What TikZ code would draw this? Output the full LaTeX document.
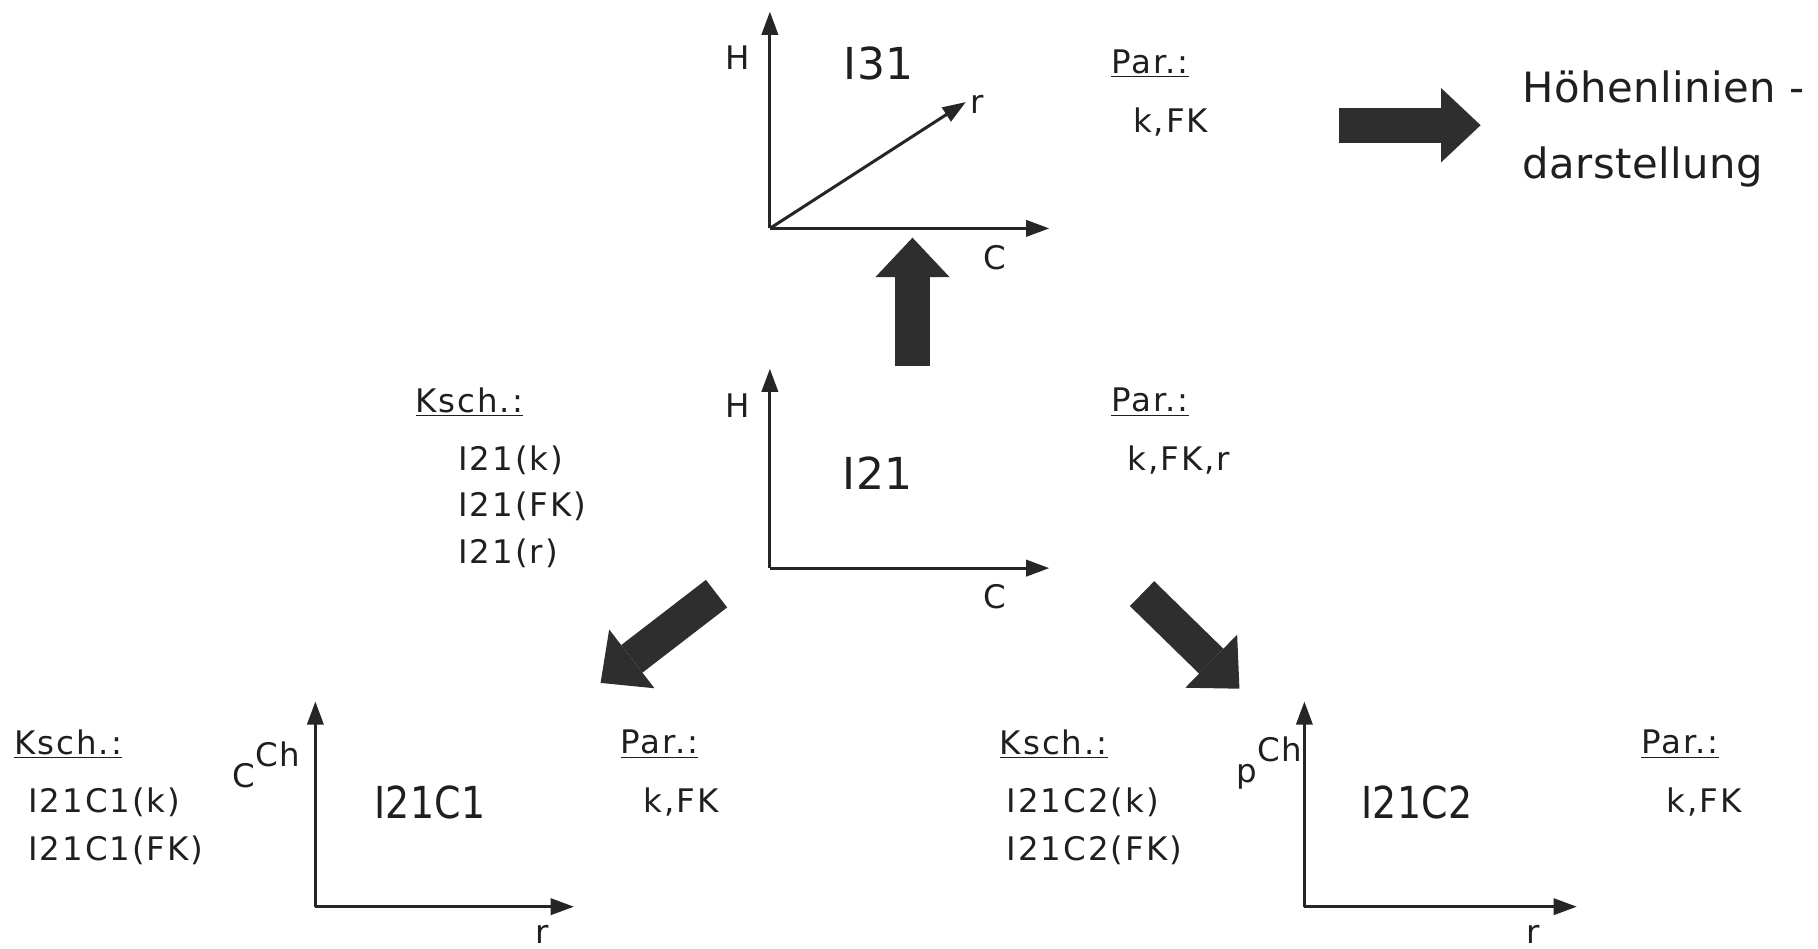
\documentclass[tikz,border=0pt]{standalone}
\usepackage{fontspec}
\setmainfont{DejaVu Sans}[LetterSpace=6]
\newfontfamily\bigfont{DejaVu Sans}[LetterSpace=1]
\usetikzlibrary{arrows.meta}
\begin{document}
\begin{tikzpicture}[x=0.5pt,y=-0.5pt,
  axis/.style={line width=1.3pt, draw=black!85, -{Triangle[length=10pt,width=7pt]}},
  blk/.style={line width=15pt, draw=black!82, -{Triangle[length=17pt,width=32pt,line width=0pt]}},
  txt/.style={font=\fontsize{14}{16}\selectfont, inner sep=0pt, text=black!88},
  big/.style={font=\bigfont\fontsize{19}{22}\selectfont, inner sep=0pt, text=black!88},
  lbl/.style={txt, anchor=west}]
\path[use as bounding box] (0,0) rectangle (1568,818);

% ---------- I31 ----------
\coordinate (o31) at (664,197);
\coordinate (o31y) at (664,10);
\coordinate (o31x) at (905,197);
\coordinate (o31r) at (833,88);
\draw[axis] (o31) -- (o31y);
\draw[axis] (o31) -- (o31x);
\draw[axis] (o31) -- (o31r);
\node[txt] (h31) at (636,50) {H};
\node[big] (t31) at (758,55) {I31};
\node[txt] (r31) at (843,90) {r};
\node[txt] (c31) at (858,222) {C};
\node[lbl] (par31) at (958,55) {\underline{Par.:}};
\node[lbl] (val31) at (977,105) {k,FK};

\coordinate (rs) at (1155,108);
\coordinate (rt) at (1277,108);
\draw[blk] (rs) -- (rt);
\node[big, font=\bigfont\fontsize{18}{22}\selectfont, anchor=base west] (hoe) at (1313,88) {Höhenlinien -};
\node[big, font=\bigfont\fontsize{18}{22}\selectfont, anchor=base west] (dar) at (1313,154) {darstellung};

% ---------- I21 ----------
\coordinate (o21) at (664,490);
\coordinate (o21y) at (664,318);
\coordinate (o21x) at (905,490);
\draw[axis] (o21) -- (o21y);
\draw[axis] (o21) -- (o21x);
\node[txt] (h21) at (636,350) {H};
\node[big] (t21) at (757,408) {I21};
\node[txt] (c21) at (858,515) {C};
\node[lbl] (ksch21) at (358,347) {\underline{Ksch.:}};
\node[lbl] (k21a) at (395,397) {I21(k)};
\node[lbl] (k21b) at (395,437) {I21(FK)};
\node[lbl] (k21c) at (395,477) {I21(r)};
\node[lbl] (par21) at (958,347) {\underline{Par.:}};
\node[lbl] (val21) at (972,397) {k,FK,r};

\coordinate (us) at (787,316);
\coordinate (ut) at (787,205);
\draw[blk] (us) -- (ut);

\coordinate (dls) at (618,512);
\coordinate (dlt) at (518,589);
\draw[blk] (dls) -- (dlt);
\coordinate (drs) at (985,512);
\coordinate (drt) at (1069,594);
\draw[blk] (drs) -- (drt);

% ---------- I21C1 ----------
\coordinate (oc1) at (272,782);
\coordinate (oc1y) at (272,605);
\coordinate (oc1x) at (495,782);
\draw[axis] (oc1) -- (oc1y);
\draw[axis] (oc1) -- (oc1x);
\node[txt] (cch) at (230,660) {C\raisebox{9pt}{Ch}};
\node[big] (tc1) at (371,692) {\scalebox{0.86}[1]{I21C1}};
\node[txt] (rc1) at (468,806) {r};
\node[lbl] (kschc1) at (12,642) {\underline{Ksch.:}};
\node[lbl] (kc1a) at (24,692) {I21C1(k)};
\node[lbl] (kc1b) at (24,733) {I21C1(FK)};
\node[lbl] (parc1) at (535,642) {\underline{Par.:}};
\node[lbl] (valc1) at (555,692) {k,FK};

% ---------- I21C2 ----------
\coordinate (oc2) at (1125,782);
\coordinate (oc2y) at (1125,605);
\coordinate (oc2x) at (1360,782);
\draw[axis] (oc2) -- (oc2y);
\draw[axis] (oc2) -- (oc2x);
\node[txt] (pch) at (1095,658) {p\raisebox{9pt}{Ch}};
\node[big] (tc2) at (1222,692) {\scalebox{0.86}[1]{I21C2}};
\node[txt] (rc2) at (1322,806) {r};
\node[lbl] (kschc2) at (862,642) {\underline{Ksch.:}};
\node[lbl] (kc2a) at (868,692) {I21C2(k)};
\node[lbl] (kc2b) at (868,733) {I21C2(FK)};
\node[lbl] (parc2) at (1415,642) {\underline{Par.:}};
\node[lbl] (valc2) at (1437,692) {k,FK};
\end{tikzpicture}
\end{document}
